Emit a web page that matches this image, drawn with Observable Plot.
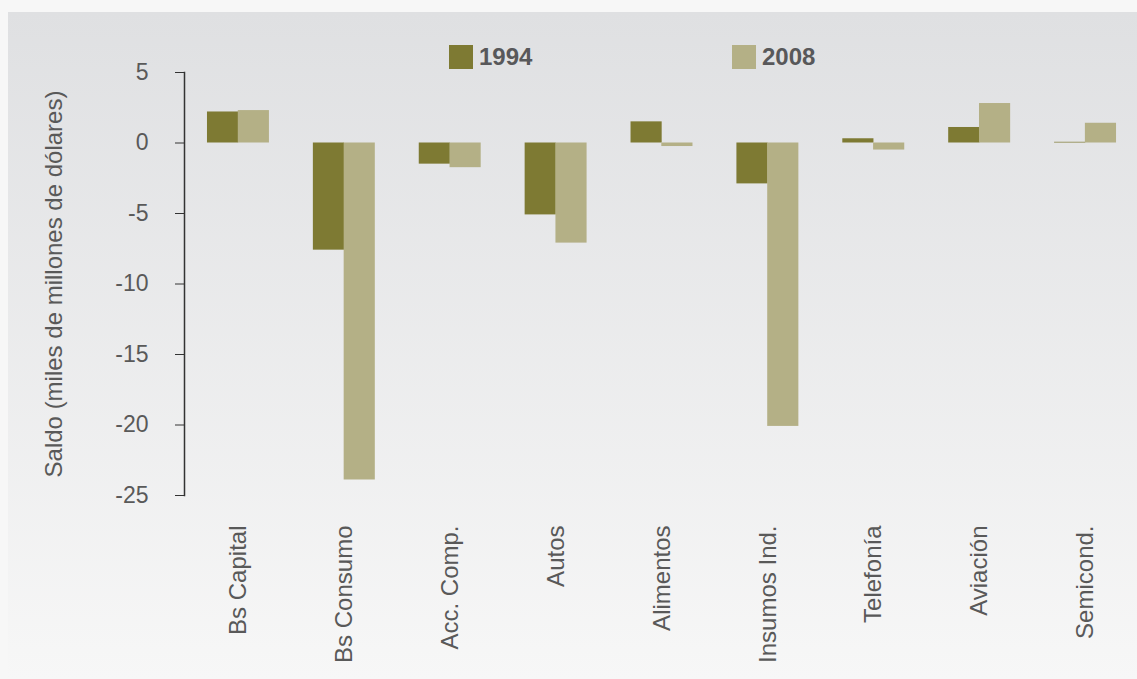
<!DOCTYPE html>
<html>
<head>
<meta charset="utf-8">
<script src="https://cdn.jsdelivr.net/npm/d3@7"></script>
<script src="https://cdn.jsdelivr.net/npm/@observablehq/plot@0.6"></script>
<style>
  html, body { margin: 0; padding: 0; background: #f7f7f7; }
  #wrap { position: relative; width: 1137px; height: 679px; overflow: hidden; font-family: "Liberation Sans", Arial, sans-serif; }
  #panel { position: absolute; left: 8px; top: 12px; right: 0; bottom: 0; background: linear-gradient(#dfe0e2, #f7f7f7); }
  #chart { position: absolute; left: 0; top: 0; }
  #chart svg { background: none; overflow: visible; }
  .leg { position: absolute; top: 43px; display: flex; align-items: center; font-weight: bold; font-size: 24px; color: #58585a; }
  .leg span.sw { display: inline-block; width: 24px; height: 24px; margin-right: 6px; }
</style>
</head>
<body>
<div id="wrap">
  <div id="panel"></div>
  <div id="chart"></div>
  <div id="legend"></div>
</div>
<script>
const categories = ["Bs Capital", "Bs Consumo", "Acc. Comp.", "Autos", "Alimentos", "Insumos Ind.", "Telefonía", "Aviación", "Semicond."];
const values1994 = [2.2, -7.6, -1.5, -5.1, 1.5, -2.9, 0.3, 1.1, 0.05];
const values2008 = [2.3, -23.9, -1.75, -7.1, -0.25, -20.1, -0.5, 2.8, 1.4];
const years = ["1994", "2008"];
const colors = ["#7e7a33", "#b4b086"];
const yTicks = [5, 0, -5, -10, -15, -20, -25];
const yLabel = "Saldo (miles de millones de dólares)";

const d1994 = categories.map((c, i) => ({cat: c, value: values1994[i]}));
const d2008 = categories.map((c, i) => ({cat: c, value: values2008[i]}));

const chart = Plot.plot({
  width: 1137,
  height: 679,
  marginLeft: 184,
  marginRight: -2,
  marginTop: 72,
  marginBottom: 184,
  style: {fontFamily: "'Liberation Sans', Arial, sans-serif", background: "none"},
  x: {domain: categories, paddingInner: 0.415, paddingOuter: 0.217, round: false, axis: null},
  y: {domain: [-25, 5], axis: null},
  marks: [
    Plot.barY(d1994, {x: "cat", y: "value", fill: colors[0], insetRight: 30.8}),
    Plot.barY(d2008, {x: "cat", y: "value", fill: colors[1], insetLeft: 30.8}),
    Plot.axisY({ticks: yTicks, tickSize: 9, tickPadding: 27, fontSize: 23, color: "#595959", stroke: "#333", label: null, tickFormat: d => d < 0 ? "-" + Math.abs(d) : String(d)}),
    Plot.frame({anchor: "left", stroke: "#333", strokeWidth: 1.5}),
    Plot.axisX({tickRotate: -90, tickSize: 0, tickPadding: 30, fontSize: 24, color: "#595959", label: null}),
    Plot.text([yLabel], {frameAnchor: "left", textAnchor: "middle", dx: -130, rotate: -90, fontSize: 24, fill: "#595959"})
  ]
});
document.getElementById("chart").appendChild(chart);

const legend = document.getElementById("legend");
const legX = [449, 732];
years.forEach((y, i) => {
  const d = document.createElement("div");
  d.className = "leg";
  d.style.left = legX[i] + "px";
  d.innerHTML = `<span class="sw" style="background:${colors[i]}"></span>${y}`;
  legend.appendChild(d);
});
</script>
</body>
</html>
